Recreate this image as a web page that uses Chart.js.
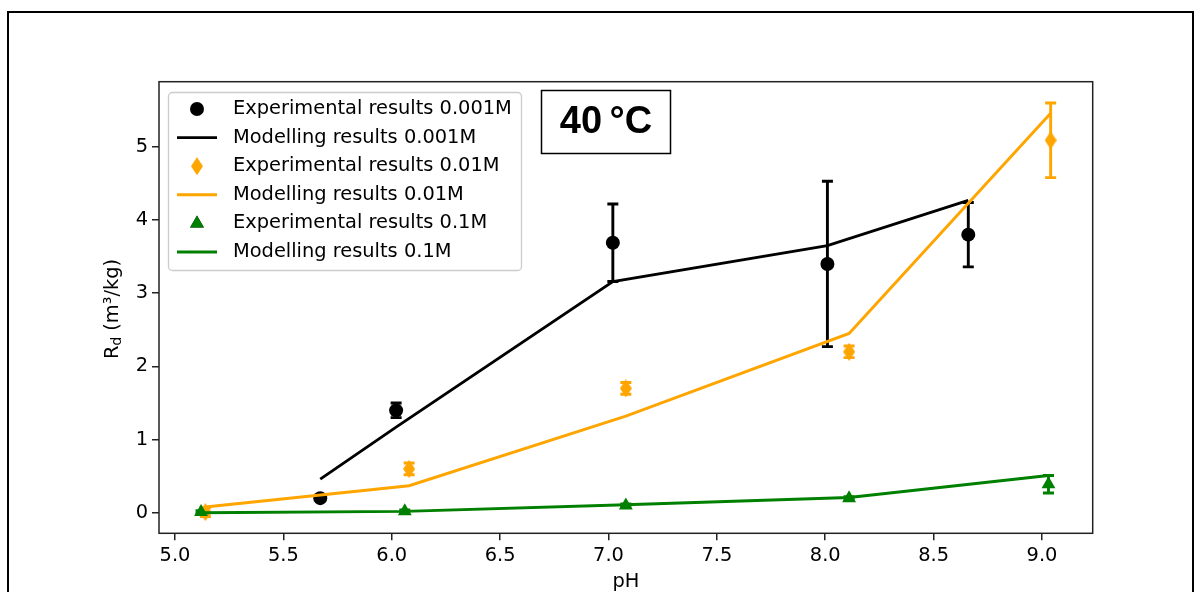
<!DOCTYPE html>
<html>
<head>
<meta charset="utf-8">
<script src="https://cdn.jsdelivr.net/npm/chart.js@4.4.1/dist/chart.umd.min.js"></script>
<style>
  html, body { margin: 0; padding: 0; background: #fff; overflow: hidden; }
  #frame { position: absolute; left: 7px; top: 11px; width: 1183px; height: 700px; border: 2px solid #000; }
  #chart { position: absolute; left: 0; top: 0; }
</style>
</head>
<body>
<div id="frame"></div>
<canvas id="chart" width="1203" height="592"></canvas>
<script>
// 0.001M
const expPh1 = [5.67, 6.02, 7.02, 8.01, 8.66];
const expRd1 = [0.20, 1.40, 3.69, 3.40, 3.80];
const errRd1 = [0.02, 0.10, 0.53, 1.13, 0.44];
const modPh1 = [5.67, 6.02, 7.02, 8.01, 8.66];
const modRd1 = [0.46, 1.17, 3.16, 3.65, 4.27];
// 0.01M
const expPh2 = [5.14, 6.08, 7.08, 8.11, 9.04];
const expRd2 = [0.01, 0.60, 1.70, 2.20, 5.09];
const errRd2 = [0.06, 0.08, 0.08, 0.08, 0.51];
const modPh2 = [5.14, 6.08, 7.08, 8.11, 9.04];
const modRd2 = [0.08, 0.37, 1.32, 2.45, 5.46];
// 0.1M
const expPh3 = [5.12, 6.06, 7.08, 8.11, 9.03];
const expRd3 = [0.01, 0.02, 0.10, 0.20, 0.39];
const errRd3 = [0.02, 0.02, 0.02, 0.02, 0.12];
const modPh3 = [5.12, 6.06, 7.08, 8.11, 9.03];
const modRd3 = [0.00, 0.02, 0.11, 0.21, 0.51];

const xTicks = [5.0, 5.5, 6.0, 6.5, 7.0, 7.5, 8.0, 8.5, 9.0];
const yTicks = [0, 1, 2, 3, 4, 5];
const labels = [
  'Experimental results 0.001M', 'Modelling results 0.001M',
  'Experimental results 0.01M', 'Modelling results 0.01M',
  'Experimental results 0.1M', 'Modelling results 0.1M'
];
const tempLabel = '40\u2009°C';

const FONT = '"DejaVu Sans"';
const FS = 19.4;

function pts(xs, ys) { return xs.map((x, i) => ({ x: x, y: ys[i] })); }

// thin diamond marker (matplotlib 'd')
const thinDiamond = document.createElement('canvas');
thinDiamond.width = 12; thinDiamond.height = 18;
(function () {
  const c = thinDiamond.getContext('2d');
  c.fillStyle = 'orange';
  c.beginPath();
  c.moveTo(6, 0); c.lineTo(12, 9); c.lineTo(6, 18); c.lineTo(0, 9);
  c.closePath(); c.fill();
})();

const datasets = [
  { label: labels[0], data: pts(expPh1, expRd1), yErr: errRd1, color: 'black',
    pointStyle: 'circle', pointRadius: 7, backgroundColor: 'black', borderColor: 'black', borderWidth: 0, showLine: false },
  { label: labels[1], data: pts(modPh1, modRd1), color: 'black',
    showLine: true, borderColor: 'black', borderWidth: 2.9, pointRadius: 0 },
  { label: labels[2], data: pts(expPh2, expRd2), yErr: errRd2, color: 'orange',
    pointStyle: thinDiamond, pointRadius: 7, backgroundColor: 'orange', borderColor: 'orange', showLine: false },
  { label: labels[3], data: pts(modPh2, modRd2), color: 'orange',
    showLine: true, borderColor: 'orange', borderWidth: 2.9, pointRadius: 0 },
  { label: labels[4], data: pts(expPh3, expRd3), yErr: errRd3, color: 'green',
    pointStyle: 'triangle', pointRadius: 8, backgroundColor: 'green', borderColor: 'green', borderWidth: 0, showLine: false },
  { label: labels[5], data: pts(modPh3, modRd3), color: 'green',
    showLine: true, borderColor: 'green', borderWidth: 2.9, pointRadius: 0 }
];
// later datasets on top, like matplotlib
datasets.forEach((d, i) => { d.order = datasets.length - i; });

const extras = {
  id: 'extras',
  beforeDatasetsDraw(chart) {
    const ctx = chart.ctx, xs = chart.scales.x, ys = chart.scales.y;
    ctx.save();
    chart.data.datasets.forEach(ds => {
      if (!ds.yErr) return;
      ctx.strokeStyle = ds.color;
      ctx.lineWidth = 2.9;
      ds.data.forEach((p, i) => {
        const px = xs.getPixelForValue(p.x);
        const t = ys.getPixelForValue(p.y + ds.yErr[i]);
        const b = ys.getPixelForValue(p.y - ds.yErr[i]);
        ctx.beginPath();
        ctx.moveTo(px, t); ctx.lineTo(px, b);
        ctx.moveTo(px - 5.5, t); ctx.lineTo(px + 5.5, t);
        ctx.moveTo(px - 5.5, b); ctx.lineTo(px + 5.5, b);
        ctx.stroke();
      });
    });
    ctx.restore();
  },
  afterDraw(chart) {
    const ctx = chart.ctx, a = chart.chartArea;
    ctx.save();
    // axes frame
    ctx.strokeStyle = '#222';
    ctx.lineWidth = 1.5;
    ctx.strokeRect(a.left, a.top, a.right - a.left, a.bottom - a.top);

    // legend
    const lx = 168, ly = 92, lw = 353, lh = 178;
    ctx.beginPath();
    ctx.roundRect(lx + 0.5, ly + 0.5, lw, lh, 4);
    ctx.fillStyle = 'rgba(255,255,255,0.8)';
    ctx.fill();
    ctx.strokeStyle = '#cccccc';
    ctx.lineWidth = 1.3;
    ctx.stroke();
    ctx.font = FS + 'px ' + FONT;
    ctx.textBaseline = 'middle';
    ctx.textAlign = 'left';
    chart.data.datasets.forEach((ds, i) => {
      const cy = 109 + i * 28.6;
      const mx = 197;
      if (ds.showLine) {
        ctx.strokeStyle = ds.color;
        ctx.lineWidth = 2.9;
        ctx.beginPath();
        ctx.moveTo(177, cy); ctx.lineTo(217, cy);
        ctx.stroke();
      } else if (ds.pointStyle === 'circle') {
        ctx.fillStyle = ds.color;
        ctx.beginPath(); ctx.arc(mx, cy, 7, 0, Math.PI * 2); ctx.fill();
      } else if (ds.pointStyle === 'triangle') {
        Chart.helpers.drawPoint(ctx, { pointStyle: 'triangle', radius: 8, borderWidth: 0 }, mx, cy);
        ctx.fillStyle = ds.color; ctx.fill();
      } else {
        ctx.drawImage(thinDiamond, mx - 6, cy - 9);
      }
      ctx.fillStyle = '#000';
      ctx.fillText(ds.label, 233, cy);
    });

    // temperature box
    ctx.strokeStyle = '#000';
    ctx.lineWidth = 1.5;
    ctx.strokeRect(541.5, 90.5, 129, 63);
    ctx.fillStyle = '#000';
    ctx.font = 'bold 38px "Liberation Sans"';
    ctx.textAlign = 'center';
    ctx.textBaseline = 'middle';
    ctx.fillText(tempLabel, 606, 123);

    // axis titles
    ctx.font = FS + 'px ' + FONT;
    ctx.fillText('pH', (a.left + a.right) / 2, 582);
    ctx.translate(113, 309);
    ctx.rotate(-Math.PI / 2);
    const big = FS + 'px ' + FONT, small = (FS * 0.7) + 'px ' + FONT;
    ctx.font = big; const wR = ctx.measureText('R').width;
    const rest = ' (m³/kg)'; const wRest = ctx.measureText(rest).width;
    ctx.font = small; const wD = ctx.measureText('d').width;
    let x0 = -(wR + wD + wRest) / 2;
    ctx.textAlign = 'left';
    ctx.font = big; ctx.fillText('R', x0, 0);
    ctx.font = small; ctx.fillText('d', x0 + wR, 4);
    ctx.font = big; ctx.fillText(rest, x0 + wR + wD, 0);
    ctx.restore();
  }
};

new Chart(document.getElementById('chart'), {
  type: 'scatter',
  data: { datasets: datasets },
  options: {
    responsive: false,
    animation: false,
    layout: { padding: { left: 0, top: 81.7, right: 110.3, bottom: 0 } },
    plugins: { legend: { display: false }, tooltip: { enabled: false } },
    scales: {
      x: {
        type: 'linear', min: 4.926, max: 9.234,
        afterBuildTicks: s => { s.ticks = xTicks.map(v => ({ value: v })); },
        afterFit: s => { s.height = 592 - 533.3; },
        ticks: { color: '#000', font: { family: 'DejaVu Sans', size: FS }, padding: 4,
                 callback: v => v.toFixed(1), maxRotation: 0, autoSkip: false },
        grid: { drawOnChartArea: false, drawTicks: true, tickLength: 7, color: '#222', lineWidth: 1.5 },
        border: { display: false }
      },
      y: {
        type: 'linear', min: -0.28, max: 5.89,
        afterBuildTicks: s => { s.ticks = yTicks.map(v => ({ value: v })); },
        afterFit: s => { s.width = 159; },
        ticks: { color: '#000', font: { family: 'DejaVu Sans', size: FS }, padding: 4,
                 callback: v => String(v), autoSkip: false },
        grid: { drawOnChartArea: false, drawTicks: true, tickLength: 7, color: '#222', lineWidth: 1.5 },
        border: { display: false }
      }
    }
  },
  plugins: [extras]
});
</script>
</body>
</html>
